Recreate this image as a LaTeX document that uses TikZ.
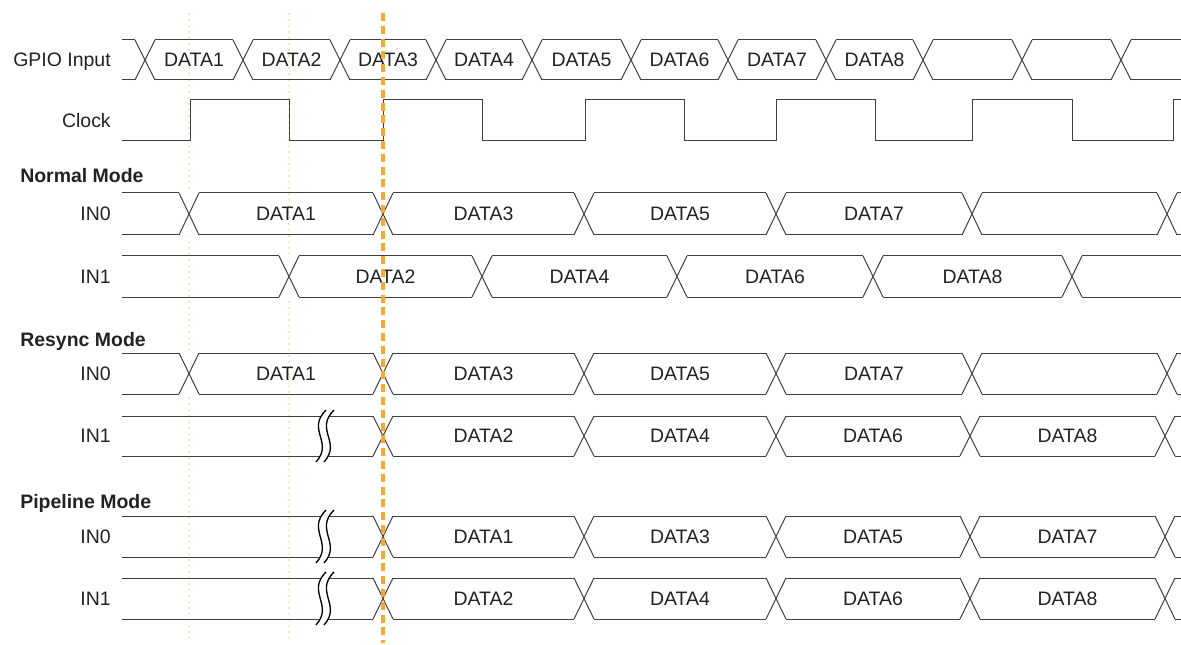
\documentclass[tikz,border=0pt]{standalone}
\usepackage{fontspec}
\setmainfont{Liberation Sans}
\definecolor{wavec}{HTML}{404040}
\definecolor{txtc}{HTML}{222222}
\definecolor{markc}{HTML}{F7A832}
\definecolor{faintc}{HTML}{FBE2C6}
\tikzset{
  wave/.style={draw=wavec, line width=0.75pt, line join=miter},
  brkline/.style={draw=black, line width=1pt},
  lbl/.style={anchor=base east, text=txtc, inner sep=0pt, font=\fontsize{14.6}{17}\selectfont},
  modelbl/.style={anchor=base west, text=txtc, inner sep=0pt, font=\fontsize{14.6}{17}\selectfont\bfseries},
  datalbl/.style={anchor=base, text=txtc, inner sep=0pt, font=\fontsize{14.6}{17}\selectfont},
  markline/.style={draw=markc, line width=2.3pt, dash pattern=on 6pt off 3.6pt},
  faintline/.style={draw=faintc, line width=0.8pt, dash pattern=on 1.5pt off 3pt}
}
\newcommand\busrow[3]{%
  \draw[wave] (122,#1) -- (1181,#1) (122,#2) -- (1181,#2);
  \foreach \c in {#3} {
    \fill[white] (\c-10,#1-1.5) rectangle (\c+10,#2+1.5);
    \draw[wave] (\c-10,#1) -- (\c+10,#2) (\c-10,#2) -- (\c+10,#1);
  }%
}
\newcommand\brksym[3]{%
  \fill[white] (#1+6,#2-6) .. controls (#1-14,#2+14) and (#1+14,#3-14) .. (#1-4,#3+6)
     -- (#1+4,#3+6) .. controls (#1+22,#3-14) and (#1-6,#2+14) .. (#1+14,#2-6) -- cycle;
  \draw[brkline] (#1+6,#2-6) .. controls (#1-14,#2+14) and (#1+14,#3-14) .. (#1-4,#3+6);
  \draw[brkline] (#1+14,#2-6) .. controls (#1-6,#2+14) and (#1+22,#3-14) .. (#1+4,#3+6);
}
\begin{document}
\begin{tikzpicture}[x=0.75pt,y=-0.75pt]
\useasboundingbox (0,0) rectangle (1181,645);

% faint guide lines
\coordinate (fa1) at (189,13); \coordinate (fa2) at (189,640);
\coordinate (fb1) at (289,13); \coordinate (fb2) at (289,640);
\draw[faintline] (fa1) -- (fa2);
\draw[faintline] (fb1) -- (fb2);

% row labels
\node[lbl] (lgpio) at (111,66.5) {GPIO Input};
\node[lbl] (lclk) at (111,127.5) {Clock};
\node[modelbl] (mnorm) at (20,183) {Normal Mode};
\node[lbl] (n0) at (111,220.5) {IN0};
\node[lbl] (n1) at (111,283.5) {IN1};
\node[modelbl] (mres) at (20,346) {Resync Mode};
\node[lbl] (r0) at (111,380.5) {IN0};
\node[lbl] (r1) at (111,442.5) {IN1};
\node[modelbl] (mpip) at (20,508) {Pipeline Mode};
\node[lbl] (p0) at (111,543) {IN0};
\node[lbl] (p1) at (111,605) {IN1};

% GPIO input
\busrow{40}{80}{145,243,340,436,532,631,728,826,923,1022,1121}
\foreach \a/\b/\t in {145/243/1,243/340/2,340/436/3,436/532/4,532/631/5,631/728/6,728/826/7,826/923/8}
  \node[datalbl] (g\t) at ({(\a+\b)/2},66.5) {DATA\t};

% Clock
\draw[wave] (122,141) -- (190,141) -- (190,100) -- (289,100) -- (289,141) -- (383,141) -- (383,100)
  -- (482,100) -- (482,141) -- (585,141) -- (585,100) -- (684,100) -- (684,141) -- (776,141)
  -- (776,100) -- (875,100) -- (875,141) -- (972,141) -- (972,100) -- (1072,100) -- (1072,141)
  -- (1173,141) -- (1173,100) -- (1181,100);

% Normal mode
\busrow{193}{235}{189,383,584,776,972,1167}
\foreach \a/\b/\t in {189/383/1,383/584/3,584/776/5,776/972/7}
  \node[datalbl] (na\t) at ({(\a+\b)/2},220.5) {DATA\t};
\busrow{256}{297}{289,482,677,873,1072}
\foreach \a/\b/\t in {289/482/2,482/677/4,677/873/6,873/1072/8}
  \node[datalbl] (nb\t) at ({(\a+\b)/2},283) {DATA\t};

% Resync mode
\busrow{353}{394}{189,383,584,776,972,1167}
\foreach \a/\b/\t in {189/383/1,383/584/3,584/776/5,776/972/7}
  \node[datalbl] (ra\t) at ({(\a+\b)/2},380) {DATA\t};
\busrow{416}{456}{383,584,776,970,1165}
\brksym{320}{416}{456}
\foreach \a/\b/\t in {383/584/2,584/776/4,776/970/6,970/1165/8}
  \node[datalbl] (rb\t) at ({(\a+\b)/2},442.5) {DATA\t};

% Pipeline mode
\busrow{516}{557}{383,584,776,970,1165}
\brksym{320}{516}{557}
\foreach \a/\b/\t in {383/584/1,584/776/3,776/970/5,970/1165/7}
  \node[datalbl] (pa\t) at ({(\a+\b)/2},543) {DATA\t};
\busrow{578}{619}{383,584,776,970,1165}
\brksym{320}{578}{619}
\foreach \a/\b/\t in {383/584/2,584/776/4,776/970/6,970/1165/8}
  \node[datalbl] (pb\t) at ({(\a+\b)/2},605) {DATA\t};

% orange marker
\coordinate (m1) at (383,13); \coordinate (m2) at (383,643);
\draw[markline] (m1) -- (m2);
\end{tikzpicture}
\end{document}
